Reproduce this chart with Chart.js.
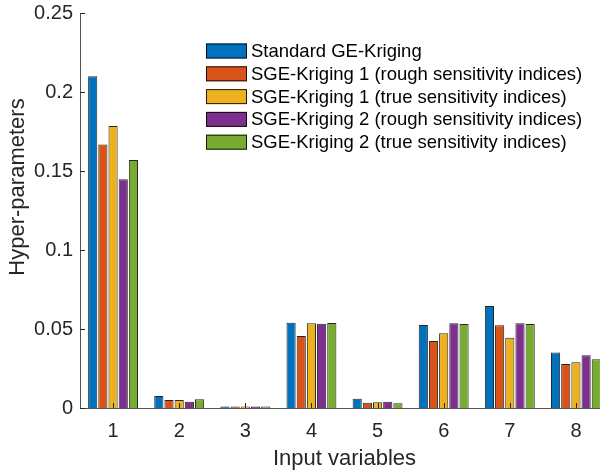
<!DOCTYPE html>
<html><head><meta charset="utf-8">
<script src="https://cdn.jsdelivr.net/npm/chart.js@4.4.0/dist/chart.umd.min.js"></script>
<style>html,body{margin:0;padding:0;overflow:hidden;background:#fff;width:600px;height:471px}canvas{display:block}</style>
</head><body>
<canvas id="c" width="610" height="471"></canvas>
<script>
const categories = ['1','2','3','4','5','6','7','8'];
const seriesNames = [
  'Standard GE-Kriging',
  'SGE-Kriging 1 (rough sensitivity indices)',
  'SGE-Kriging 1 (true sensitivity indices)',
  'SGE-Kriging 2 (rough sensitivity indices)',
  'SGE-Kriging 2 (true sensitivity indices)'
];
const standardGE = [0.2100, 0.0076, 0.0009, 0.0540, 0.0059, 0.0525, 0.0646, 0.0352];
const sge1Rough  = [0.1667, 0.0050, 0.0009, 0.0456, 0.0034, 0.0424, 0.0523, 0.0278];
const sge1True   = [0.1785, 0.0050, 0.0009, 0.0536, 0.0036, 0.0473, 0.0445, 0.0289];
const sge2Rough  = [0.1447, 0.0040, 0.0009, 0.0534, 0.0040, 0.0536, 0.0536, 0.0334];
const sge2True   = [0.1570, 0.0055, 0.0009, 0.0538, 0.0030, 0.0532, 0.0532, 0.0308];
const yTickValues = [0, 0.05, 0.1, 0.15, 0.2, 0.25];
const yTickLabels = ['0', '0.05', '0.1', '0.15', '0.2', '0.25'];
const xTitle = 'Input variables';
const yTitle = 'Hyper-parameters';
const colors = ['#0072BD', '#D95319', '#EDB120', '#7E2F8E', '#77AC30'];

const seriesValues = [standardGE, sge1Rough, sge1True, sge2Rough, sge2True];
const FONT = "'Liberation Sans', Arial, Helvetica, sans-serif";
const AXIS = '#262626';

const datasets = seriesValues.map((vals, i) => ({
  label: seriesNames[i],
  data: vals,
  backgroundColor: colors[i],
  borderColor: 'rgba(0,0,0,0.85)',
  borderWidth: 1,
  borderSkipped: 'bottom',
  categoryPercentage: 0.77,
  barPercentage: 0.9
}));

const inwardTicks = {
  id: 'inwardTicks',
  afterDatasetsDraw(chart) {
    const {ctx, chartArea, scales: {x, y}} = chart;
    ctx.save();
    ctx.strokeStyle = AXIS;
    ctx.lineWidth = 1;
    ctx.beginPath();
    x.ticks.forEach((t, i) => {
      const px = Math.round(x.getPixelForTick(i)) + 0.5;
      ctx.moveTo(px, chartArea.bottom);
      ctx.lineTo(px, chartArea.bottom - 5);
    });
    yTickValues.forEach(v => {
      const py = Math.round(y.getPixelForValue(v)) + 0.5;
      ctx.moveTo(chartArea.left, py);
      ctx.lineTo(chartArea.left + 5, py);
    });
    ctx.stroke();
    ctx.restore();
  }
};

const boxLegend = {
  id: 'boxLegend',
  afterDraw(chart) {
    const {ctx} = chart;
    ctx.save();
    ctx.font = '18.5px ' + FONT;
    ctx.textBaseline = 'middle';
    ctx.textAlign = 'left';
    chart.data.datasets.forEach((ds, i) => {
      const cy = 51 + i * 22.8;
      ctx.fillStyle = ds.backgroundColor;
      ctx.fillRect(206, cy - 7.5, 41, 15);
      ctx.strokeStyle = 'rgba(0,0,0,0.85)';
      ctx.lineWidth = 1;
      ctx.strokeRect(206.5, cy - 7, 40, 14);
      ctx.fillStyle = '#000';
      ctx.fillText(ds.label, 251, cy + 1);
    });
    ctx.restore();
  }
};

const yTitlePlugin = {
  id: 'yTitlePlugin',
  afterDraw(chart) {
    const {ctx} = chart;
    ctx.save();
    ctx.translate(18, 187);
    ctx.rotate(-Math.PI / 2);
    ctx.font = '22px ' + FONT;
    ctx.fillStyle = AXIS;
    ctx.textAlign = 'center';
    ctx.textBaseline = 'middle';
    ctx.fillText(yTitle, 0, 0);
    ctx.restore();
  }
};

new Chart(document.getElementById('c'), {
  type: 'bar',
  data: { labels: categories, datasets },
  options: {
    responsive: false,
    animation: false,
    devicePixelRatio: 1,
    layout: { padding: { top: 13, right: 1, left: 0, bottom: 0 } },
    plugins: { legend: { display: false }, tooltip: { enabled: false } },
    scales: {
      x: {
        type: 'category',
        offset: true,
        grid: { display: false, drawTicks: false },
        border: { display: true, color: '#555', width: 1 },
        ticks: { font: { family: FONT, size: 20 }, color: AXIS, padding: 11, maxRotation: 0, autoSkip: false },
        title: { display: true, text: xTitle, font: { family: FONT, size: 22, lineHeight: 1 }, color: AXIS, padding: { top: 0, bottom: 1 } },
        afterFit(s) { s.height = 63; s.paddingLeft = 0; s.paddingRight = 0; }
      },
      y: {
        min: 0, max: 0.25,
        grid: { display: false, drawTicks: false },
        border: { display: true, color: '#555', width: 1 },
        afterBuildTicks(s) { s.ticks = yTickValues.map(v => ({ value: v })); },
        ticks: {
          font: { family: FONT, size: 20 }, color: AXIS, padding: 7,
          callback: (v) => { const i = yTickValues.findIndex(t => Math.abs(t - v) < 1e-9); return i >= 0 ? yTickLabels[i] : ''; }
        },
        title: { display: false },
        afterFit(s) { s.width = 80; s.paddingTop = 0; s.paddingBottom = 0; }
      }
    }
  },
  plugins: [inwardTicks, boxLegend, yTitlePlugin]
});
</script>
</body></html>
